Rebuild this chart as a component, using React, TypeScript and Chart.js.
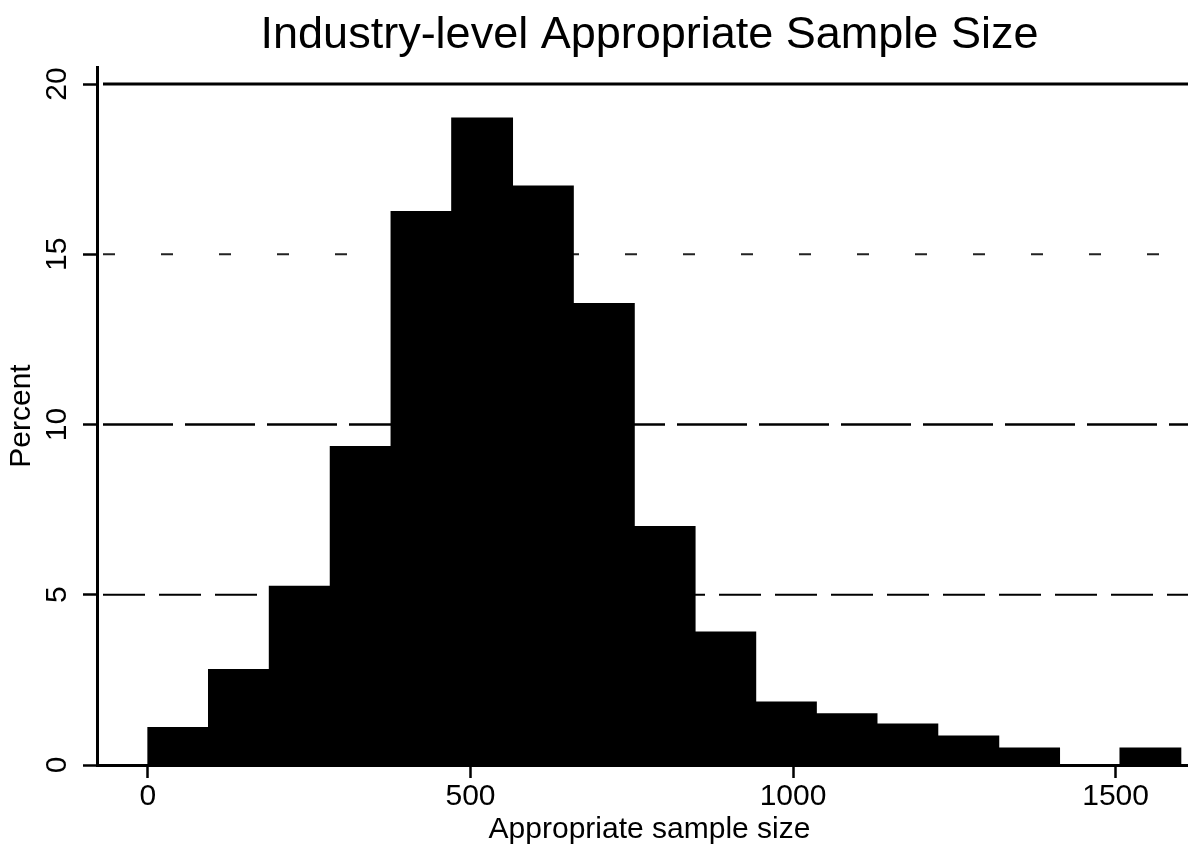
import React, { useEffect, useRef } from "react";
import { Chart, registerables } from "chart.js";

Chart.register(...registerables);

// Histogram bin edges (Appropriate sample size) and bar heights (Percent)
const binEdges = [0, 94, 188, 283, 377, 471, 565, 659, 754, 848, 942, 1036, 1130, 1224, 1319, 1413, 1507, 1601];
const percent = [1.1, 2.8, 5.25, 9.35, 16.25, 19.0, 17.0, 13.55, 7.0, 3.9, 1.85, 1.5, 1.2, 0.85, 0.5, 0, 0.5];
const xTickValues = [0, 500, 1000, 1500];
const yTickValues = [0, 5, 10, 15, 20];
const titleText = "Industry-level Appropriate Sample Size";
const xTitle = "Appropriate sample size";
const yTitle = "Percent";

const FONT = "'Liberation Sans', Arial, Helvetica, sans-serif";

export default function App() {
  const ref = useRef<HTMLCanvasElement>(null);

  useEffect(() => {
    const canvas = ref.current;
    if (!canvas) return;

    const binCenters = percent.map((_, i) => (binEdges[i] + binEdges[i + 1]) / 2);

    const gridPlugin = {
      id: "stataGrid",
      beforeDatasetsDraw(chart: any) {
        const { ctx, chartArea, scales } = chart;
        const y = scales.y;
        ctx.save();
        y.ticks.forEach((t: any) => {
          const v = t.value;
          if (v === 0) return;
          const py = y.getPixelForValue(v);
          let dash: number[] = [];
          let w = 2;
          let color = "#000";
          if (v === 20) {
            dash = [];
            w = 3;
          } else if (v === 15) {
            dash = [12, 46];
            w = 2;
            color = "#222";
          } else if (v === 10) {
            dash = [70, 12];
            w = 2.5;
          } else if (v === 5) {
            dash = [42, 14];
            w = 2;
          }
          ctx.setLineDash(dash);
          ctx.lineWidth = w;
          ctx.strokeStyle = color;
          ctx.beginPath();
          ctx.moveTo(chartArea.left + 6, py);
          ctx.lineTo(chartArea.right, py);
          ctx.stroke();
        });
        ctx.restore();
      },
    };

    const yLabelPlugin = {
      id: "yRotLabels",
      afterDraw(chart: any) {
        const { ctx, scales } = chart;
        const y = scales.y;
        ctx.save();
        ctx.fillStyle = "#000";
        ctx.font = `30px ${FONT}`;
        ctx.textAlign = "center";
        ctx.textBaseline = "middle";
        y.ticks.forEach((t: any) => {
          const py = y.getPixelForValue(t.value);
          ctx.save();
          ctx.translate(58, py);
          ctx.rotate(-Math.PI / 2);
          ctx.fillText(String(t.value), 0, 0);
          ctx.restore();
        });
        ctx.restore();
      },
    };

    const chart = new Chart(canvas, {
      type: "bar",
      data: {
        datasets: [
          {
            data: binCenters.map((x, i) => ({ x, y: percent[i] })),
            backgroundColor: "#000",
            borderWidth: 0,
            barThickness: "flex",
            barPercentage: 1,
            categoryPercentage: 1,
            inflateAmount: 0.6,
          } as any,
        ],
      },
      options: {
        responsive: false,
        animation: false,
        layout: { padding: 0 },
        plugins: {
          legend: { display: false },
          tooltip: { enabled: false },
          title: {
            display: true,
            text: titleText,
            fullSize: false,
            color: "#000",
            font: { family: FONT, size: 45, weight: "normal", lineHeight: 1.2 },
            padding: { top: 9, bottom: 4 },
          },
        },
        scales: {
          x: {
            type: "linear",
            min: -79,
            max: 1634,
            offset: false,
            afterBuildTicks: (s: any) => {
              s.ticks = xTickValues.map((v) => ({ value: v }));
            },
            afterFit: (s: any) => {
              s.height = 83;
            },
            grid: {
              display: true,
              drawOnChartArea: false,
              offset: false,
              tickLength: 13,
              tickWidth: 2.5,
              tickColor: "#000",
            },
            border: { display: true, color: "#000", width: 3 },
            ticks: {
              color: "#000",
              font: { family: FONT, size: 30 },
              padding: 1,
              maxRotation: 0,
              autoSkip: false,
              callback: (v: any) => String(v),
            },
            title: {
              display: true,
              text: xTitle,
              color: "#000",
              font: { family: FONT, size: 30 },
              padding: { top: 0, bottom: 0 },
            },
          } as any,
          y: {
            type: "linear",
            min: 0,
            max: 20.5,
            afterBuildTicks: (s: any) => {
              s.ticks = yTickValues.map((v) => ({ value: v }));
            },
            afterFit: (s: any) => {
              s.width = 97;
            },
            grid: {
              drawOnChartArea: false,
              tickLength: 14,
              tickWidth: 2.5,
              tickColor: "#000",
            },
            border: { display: true, color: "#000", width: 3 },
            ticks: { display: false },
            title: {
              display: true,
              text: yTitle,
              color: "#000",
              font: { family: FONT, size: 30 },
              padding: { top: 4, bottom: 0 },
            },
          } as any,
        },
      },
      plugins: [gridPlugin, yLabelPlugin],
    });

    return () => {
      chart.destroy();
    };
  }, []);

  return (
    <div
      style={{
        position: "absolute",
        left: 0,
        top: 0,
        width: 1188,
        height: 848,
        overflow: "hidden",
        background: "#fff",
      }}
    >
      <canvas ref={ref} width={1202} height={848} style={{ display: "block" }} />
    </div>
  );
}
